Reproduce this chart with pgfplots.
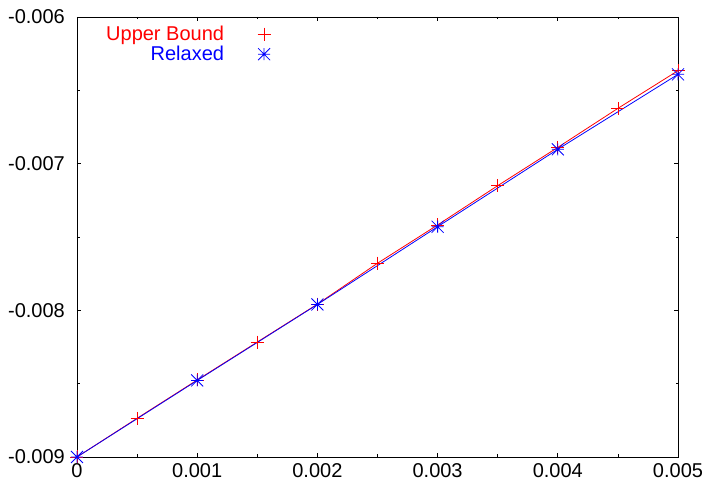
\documentclass[border=0pt]{standalone}
\usepackage{fontspec}
\setmainfont{Liberation Sans}
\usepackage{pgfplots}
\pgfplotsset{compat=1.18}
\pgfdeclareplotmark{gpstar}{%
  \pgfpathmoveto{\pgfqpoint{-\pgfplotmarksize}{0pt}}\pgfpathlineto{\pgfqpoint{\pgfplotmarksize}{0pt}}%
  \pgfpathmoveto{\pgfqpoint{0pt}{-\pgfplotmarksize}}\pgfpathlineto{\pgfqpoint{0pt}{\pgfplotmarksize}}%
  \pgfpathmoveto{\pgfqpoint{-\pgfplotmarksize}{-\pgfplotmarksize}}\pgfpathlineto{\pgfqpoint{\pgfplotmarksize}{\pgfplotmarksize}}%
  \pgfpathmoveto{\pgfqpoint{-\pgfplotmarksize}{\pgfplotmarksize}}\pgfpathlineto{\pgfqpoint{\pgfplotmarksize}{-\pgfplotmarksize}}%
  \pgfusepathqstroke}
\definecolor{gpred}{RGB}{255,0,0}
\definecolor{gpblue}{RGB}{0,0,255}
\begin{document}
\begin{tikzpicture}
\begin{axis}[
  at={(0,0)}, anchor=south west,
  scale only axis, width=601pt, height=440pt,
  xmin=0, xmax=0.005, ymin=-0.009, ymax=-0.006,
  xtick={0,0.001,0.002,0.003,0.004,0.005},
  ytick={-0.009,-0.008,-0.007,-0.006},
  xticklabels={0,0.001,0.002,0.003,0.004,0.005},
  yticklabels={-0.009,-0.008,-0.007,-0.006},
  minor tick num=1,
  tick align=inside,
  major tick length=4pt, minor tick length=2.5pt,
  tick style={black, line width=0.8pt},
  axis line style={black, line width=0.9pt},
  scaled ticks=false,
  font=\fontsize{20}{22}\selectfont,
  xticklabel style={anchor=north, inner sep=0pt, yshift=-6pt},
  yticklabel style={anchor=east, inner sep=0pt, xshift=-12pt},
  legend plot pos=right,
  legend cell align=right,
  legend style={draw=none, fill=none, at={(0,1)}, anchor=north west, xshift=28pt, yshift=-7pt,
    row sep=0pt, inner sep=0pt, nodes={inner sep=1pt, minimum height=20pt}, font=\fontsize{20}{22}\selectfont},
  legend image code/.code={\path[draw=none,fill=none] (0pt,0pt) -- (46pt,0pt); \draw[#1, only marks] plot coordinates {(39pt,0pt)};},
]
\addplot[gpred, line width=0.8pt, forget plot] coordinates {
(0,-0.009) (0.0005,-0.008736) (0.001,-0.008475) (0.0015,-0.008216) (0.002,-0.007958)
(0.0025,-0.007679) (0.003,-0.007418) (0.0035,-0.007150) (0.004,-0.006889)
(0.0045,-0.006623) (0.005,-0.006366)};
\addplot[gpblue, line width=0.8pt, forget plot] coordinates {
(0,-0.009) (0.001,-0.008478) (0.002,-0.007960) (0.003,-0.007430) (0.004,-0.006902) (0.005,-0.006391)};
\addplot[gpred, only marks, mark=+, mark size=6.5pt, mark options={line width=0.8pt}] coordinates {
(0,-0.009) (0.0005,-0.008736) (0.001,-0.008475) (0.0015,-0.008216) (0.002,-0.007958)
(0.0025,-0.007679) (0.003,-0.007418) (0.0035,-0.007150) (0.004,-0.006889)
(0.0045,-0.006623) (0.005,-0.006366)};
\addlegendentry{\textcolor{gpred}{Upper Bound}}
\addplot[gpblue, only marks, mark=gpstar, mark size=6pt, mark options={line width=0.8pt}] coordinates {
(0,-0.009) (0.001,-0.008478) (0.002,-0.007960) (0.003,-0.007430) (0.004,-0.006902) (0.005,-0.006391)};
\addlegendentry{\textcolor{gpblue}{Relaxed}}
\end{axis}
\pgfresetboundingbox
\useasboundingbox (-77pt,-37pt) rectangle (635pt,457pt);
\end{tikzpicture}
\end{document}
